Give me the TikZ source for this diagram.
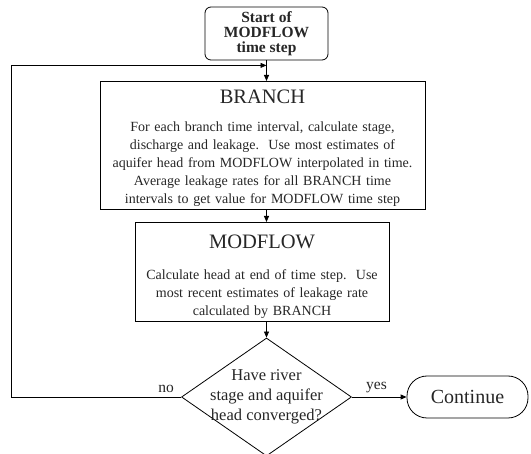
\documentclass[tikz,border=0pt]{standalone}
\usepackage{fontspec}
\setmainfont{Liberation Serif}
\usetikzlibrary{calc, shapes, shapes.geometric, positioning, arrows.meta}

\begin{document}
\begin{tikzpicture}[x=1pt,y=-1pt,
    every node/.style={text=black!85},
    flow/.style={draw=black,line width=0.8pt,-{Triangle[length=6pt,width=5pt]}},
    startbox/.style={draw,line width=0.8pt,rounded corners=6pt,minimum width=123pt,minimum height=53pt,inner sep=0pt,align=center,font=\bfseries\fontsize{15.5}{15}\selectfont},
    procbox/.style={draw,line width=0.8pt,anchor=north,inner xsep=0pt,inner ysep=3pt,align=center,font=\fontsize{14}{18}\selectfont},
    decision/.style={draw,line width=0.8pt,diamond,minimum width=170pt,minimum height=118pt,inner sep=0pt},
    endbox/.style={draw,line width=0.8pt,rounded corners=20pt,minimum width=121pt,minimum height=42pt,font=\fontsize{20}{20}\selectfont},
    tag/.style={font=\fontsize{15.5}{15.5}\selectfont,inner sep=0pt}]
  \useasboundingbox (0,0) rectangle (531,454);
  \node[startbox] (start) at (266.5,33.5) {Start of\\MODFLOW\\time step};
  \node[procbox,text width=325pt] (branch) at (262.5,81) {{\fontsize{20.5}{20}\selectfont\rule{0pt}{19pt}BRANCH\par}\vspace{10pt}
    For each branch time interval, calculate stage,\\
    discharge and leakage.\ \ Use most estimates of\\
    aquifer head from MODFLOW interpolated in time.\\
    Average leakage rates for all BRANCH time\\
    intervals to get value for MODFLOW time step};
  \node[procbox,text width=254pt] (modflow) at (262,222) {{\fontsize{20.5}{20}\selectfont\rule{0pt}{23pt}MODFLOW\par}\vspace{13pt}
    Calculate head at end of time step.\ \ Use\\
    most recent estimates of leakage rate\\
    calculated by BRANCH};
  \node[decision,label={[align=center,font=\fontsize{16.5}{20}\selectfont]center:Have river\\stage and aquifer\\head converged?}] (check) at (266.5,397) {};
  \node[endbox] (continue) at (467.5,397) {Continue};
  \coordinate (merge) at ($(start.south)+(0,5)$);
  \draw[flow] (start.south) -- (start.south |- branch.north);
  \draw[flow] (branch.south -| start.south) -- (modflow.north -| start.south);
  \draw[flow] (modflow.south -| check.north) -- (check.north);
  \draw[flow] (check.east) -- (continue.west) node[tag,pos=0.45,above=4pt] {yes};
  \draw[flow] (check.west) -- ++(-170,0) |- (merge);
  \node[tag,anchor=base] (no) at (166,393) {no};
\end{tikzpicture}
\end{document}
